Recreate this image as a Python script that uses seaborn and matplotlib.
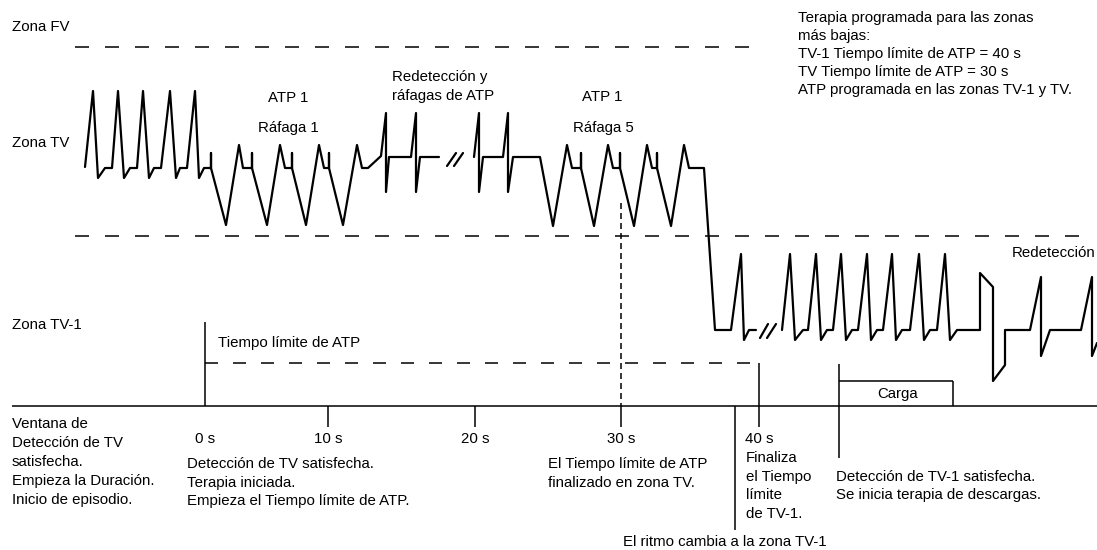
import numpy as np
import pandas as pd
import matplotlib
matplotlib.use("Agg")
import matplotlib.pyplot as plt
import seaborn as sns

# ---------------- data (diagram coordinates, pixel-like units) ----------------
# Rhythm trace, segment 1: VT beats, ATP burst 1, redetection beats
wave1_x = [85, 93, 98, 105, 112, 118, 124, 130, 137, 143, 149, 154, 161,
           170, 176, 180, 187, 195, 199, 204, 211, 211, 211,
           226, 239, 243, 252, 252, 252,
           267, 280, 285, 292, 292, 292,
           306, 319, 324, 329, 329, 329,
           343, 357, 362, 368,
           381, 386, 386, 389, 411, 416, 416, 420, 439]
wave1_y = [167, 91, 178, 168, 168, 91, 178, 168, 168, 91, 178, 168, 168,
           91, 178, 168, 168, 91, 178, 168, 168, 153, 168,
           225, 145, 168, 168, 153, 168,
           225, 145, 168, 168, 153, 168,
           225, 145, 168, 168, 153, 168,
           225, 145, 168, 168,
           156, 113, 192, 157, 157, 113, 192, 157, 157]
# segment 2: redetection beats, ATP burst 5, drop into VT-1 zone
wave2_x = [474, 479, 479, 483, 503, 508, 508, 513, 540,
           553, 567, 572, 581, 581, 581,
           594, 608, 613, 620, 620, 620,
           634, 647, 652, 657, 657, 657,
           671, 684, 689, 704,
           715, 731, 741, 744, 749, 756]
wave2_y = [157, 113, 192, 157, 157, 113, 192, 157, 157,
           226, 145, 168, 168, 153, 168,
           226, 145, 168, 168, 153, 168,
           226, 145, 168, 168, 153, 168,
           226, 145, 168, 168,
           330, 330, 254, 340, 330, 330]
# segment 3: VT-1 beats, shock, redetection
wave3_x = [782, 790, 795, 803, 808, 816, 821, 827, 833, 841, 846, 852, 858,
           867, 871, 877, 883, 892, 896, 902, 910, 919, 924, 930, 937,
           945, 950, 957, 980, 980, 993, 993, 1005, 1005, 1030,
           1041, 1041, 1050, 1081, 1092, 1092, 1097]
wave3_y = [330, 254, 340, 330, 330, 254, 340, 330, 330, 254, 340, 330, 330,
           254, 340, 330, 330, 254, 340, 330, 330, 254, 340, 330, 330,
           254, 340, 330, 330, 273, 287, 381, 365, 330, 330,
           277, 356, 330, 330, 277, 356, 343]
# break marks "//"
break_x = [[447, 456], [454, 463], [760, 768], [767, 776]]
break_y = [[166, 153], [166, 153], [338, 324], [338, 324]]

# zone boundaries
zone_fv_y, zone_fv_x = 47, (75, 760)
zone_tv_y, zone_tv_x = 236, (75, 1085)
zone_labels = ["Zona FV", "Zona TV", "Zona TV-1"]
zone_label_y = [31, 147, 329]

# time axis
axis_y, axis_x = 406, (12, 1097)
tick_pos = [205, 328, 475, 621, 759]
tick_labels = ["0 s", "10 s", "20 s", "30 s", "40 s"]

# ---------------- figure ----------------
sns.set_theme(style="white")
plt.rcParams["font.family"] = ["Liberation Sans", "DejaVu Sans"]
fig = plt.figure(figsize=(10.97, 5.5), dpi=100)
ax = fig.add_axes([0, 0, 1, 1])

segs = []
for i, (xs, ys) in enumerate([(wave1_x, wave1_y), (wave2_x, wave2_y), (wave3_x, wave3_y)]):
    segs.append(pd.DataFrame({"x": xs, "y": ys, "seg": i}))
for j, (xs, ys) in enumerate(zip(break_x, break_y)):
    segs.append(pd.DataFrame({"x": xs, "y": ys, "seg": 10 + j}))
df = pd.concat(segs, ignore_index=True)
sns.lineplot(data=df, x="x", y="y", units="seg", estimator=None, sort=False,
             color="black", linewidth=1.6, ax=ax, legend=False)

ax.set_xlim(0, 1097)
ax.set_ylim(550, 0)
ax.axis("off")

K = "black"
lw_ax = 1.1
fs = 10.8


def dash(px_on, px_off, lw):
    return (0, (px_on * 0.72 / lw, px_off * 0.72 / lw))


def mtext(x, y0, text, step=18.5, ha="left"):
    for i, line in enumerate(text.split("\n")):
        ax.text(x, y0 + i * step, line, fontsize=fs, ha=ha, va="baseline", color=K)


# zone boundary dashed lines
ax.hlines(zone_fv_y, *zone_fv_x, color=K, lw=lw_ax, linestyles=[dash(14, 16, lw_ax)])
ax.hlines(zone_tv_y, *zone_tv_x, color=K, lw=lw_ax, linestyles=[dash(14, 16, lw_ax)])

# time axis
ax.hlines(axis_y, *axis_x, color=K, lw=lw_ax)
ax.vlines(tick_pos[0], 322, axis_y, color=K, lw=lw_ax)
ax.vlines(tick_pos[1:4], axis_y, 427, color=K, lw=lw_ax)
ax.vlines(tick_pos[3], 203, axis_y, color=K, lw=lw_ax, linestyles=[dash(6, 4, lw_ax)])
ax.vlines(tick_pos[4], 363, 427, color=K, lw=lw_ax)
for xp, lab in zip(tick_pos, tick_labels):
    ax.text(xp, 443, lab, ha="center", va="baseline", fontsize=fs, color=K)

# ATP time-out dashed line
ax.hlines(363, tick_pos[0], tick_pos[4], color=K, lw=lw_ax, linestyles=[dash(13, 15, lw_ax)])
# rhythm change marker
ax.vlines(735, axis_y, 530, color=K, lw=lw_ax)
# charge box
ax.vlines(839, 364, 458, color=K, lw=lw_ax)
ax.hlines(381, 839, 953, color=K, lw=lw_ax)
ax.vlines(953, 381, axis_y, color=K, lw=lw_ax)

for lab, yy in zip(zone_labels, zone_label_y):
    mtext(12, yy, lab)

mtext(288, 102, "ATP 1", ha="center")
mtext(288, 132, "Ráfaga 1", ha="center")
mtext(392, 81, "Redetección y\nráfagas de ATP", step=19)
mtext(602, 101, "ATP 1", ha="center")
mtext(603, 132, "Ráfaga 5", ha="center")
mtext(798, 22, "Terapia programada para las zonas\nmás bajas:\n"
      "TV-1 Tiempo límite de ATP = 40 s\nTV Tiempo límite de ATP = 30 s\n"
      "ATP programada en las zonas TV-1 y TV.", step=18)
mtext(1012, 257, "Redetección")
mtext(218, 347, "Tiempo límite de ATP")
mtext(898, 398, "Carga", ha="center")

mtext(12, 428, "Ventana de\nDetección de TV\nsatisfecha.\nEmpieza la Duración.\nInicio de episodio.",
      step=19)
mtext(187, 468, "Detección de TV satisfecha.\nTerapia iniciada.\nEmpieza el Tiempo límite de ATP.",
      step=18.5)
mtext(548, 468, "El Tiempo límite de ATP\nfinalizado en zona TV.", step=19)
mtext(746, 462, "Finaliza\nel Tiempo\nlímite\nde TV-1.", step=18.5)
mtext(836, 481, "Detección de TV-1 satisfecha.\nSe inicia terapia de descargas.", step=18.5)
mtext(623, 546, "El ritmo cambia a la zona TV-1")

fig.savefig("out.png", dpi=100)
